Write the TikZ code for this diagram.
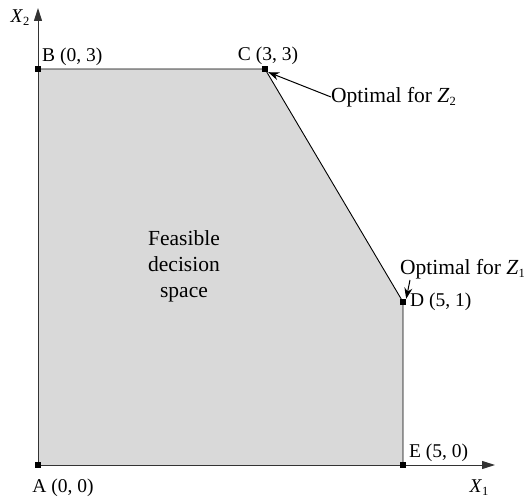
\documentclass[tikz,border=0pt]{standalone}
\usepackage{fontspec}
\setmainfont{Liberation Serif}
\usetikzlibrary{arrows.meta}
\newcommand{\sub}[2]{\textit{#1}\raisebox{-0.35ex}{\fontsize{12.5}{13}\selectfont #2}}
\begin{document}
\begin{tikzpicture}[x=1pt,y=-1pt,
  lbl/.style={font=\fontsize{19.5}{22}\selectfont, inner sep=0pt},
  big/.style={font=\fontsize{21.5}{26}\selectfont, inner sep=0pt},
  corner/.style={fill=black, minimum size=6pt, inner sep=0pt},
  axis/.style={draw=black!80, line width=1pt, -{Triangle[length=13pt,width=8pt]}},
  pointer/.style={draw=black, line width=1pt, -{Stealth[length=11pt,width=8pt]}}]
\useasboundingbox (0,0) rectangle (531,500);
\coordinate (A) at (38,465);
\coordinate (B) at (38,69);
\coordinate (C) at (265,69);
\coordinate (D) at (403,302);
\coordinate (E) at (403,465);
\coordinate (xend) at (495,465);
\coordinate (yend) at (38,8);
\coordinate (p1) at (410,280);
\fill[black!15] (A) -- (B) -- (C) -- (D) -- (E) -- cycle;
\draw[line width=0.9pt] (B) -- (C) -- (D) -- (E);
\draw[axis] (A) -- (xend);
\draw[axis] (A) -- (yend);
\node[corner] (nA) at (A) {};
\node[corner] (nB) at (B) {};
\node[corner] (nC) at (C) {};
\node[corner] (nD) at (D) {};
\node[corner] (nE) at (E) {};
\node[lbl, anchor=west] (lB) at (42,57) {B (0, 3)};
\node[lbl] (lC) at (268,56) {C (3, 3)};
\node[lbl, anchor=west] (lD) at (410,302) {D (5, 1)};
\node[lbl, anchor=west] (lE) at (409,453) {E (5, 0)};
\node[lbl] (lA) at (63,488) {A (0, 0)};
\node[lbl] (lx1) at (479,488) {\sub{X}{1}};
\node[lbl] (lx2) at (20,18) {\sub{X}{2}};
\node[big, align=center] (feas) at (184,266) {Feasible\\decision\\space};
\node[big, anchor=west] (o2) at (331,97) {Optimal for \sub{Z}{2}};
\node[big, anchor=west] (o1) at (400,269) {Optimal for \sub{Z}{1}};
\draw[pointer] (o2.west) -- (nC.south east);
\draw[pointer] (p1) -- (nD.north east);
\end{tikzpicture}
\end{document}
